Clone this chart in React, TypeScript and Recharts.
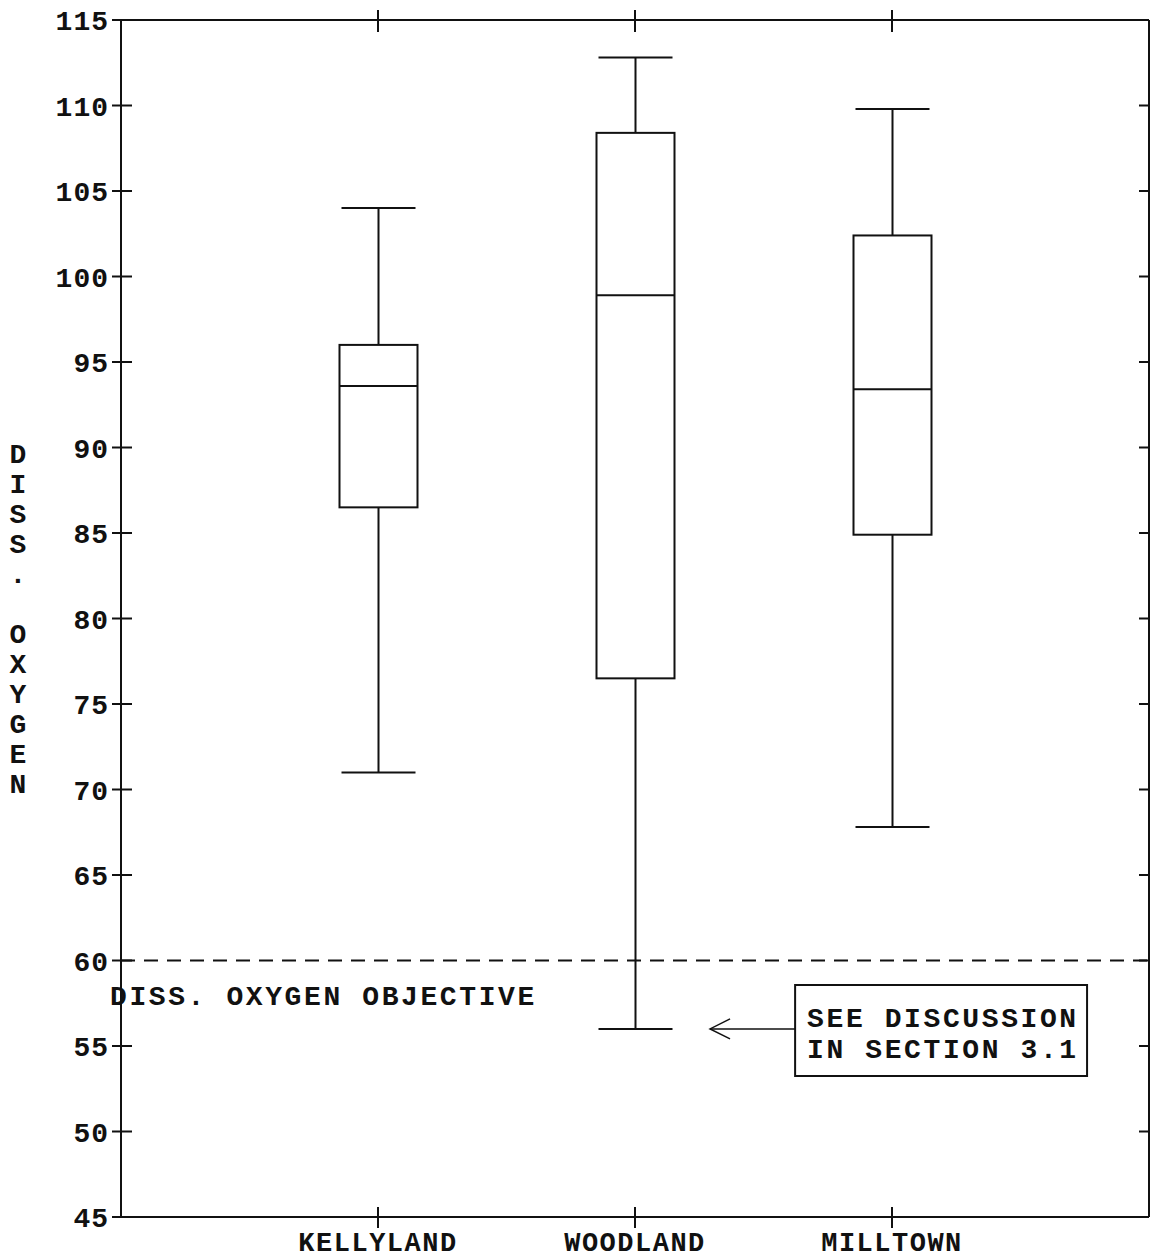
import React from "react";
import {
  ComposedChart, Bar, Scatter, XAxis, YAxis, ReferenceLine, ReferenceArea,
} from "recharts";

// Sites along the x axis (numeric positions 1..3 on a 0..4 axis)
const SITES = ["KELLYLAND", "WOODLAND", "MILLTOWN"];
const SITE_POS = [1, 2, 3];

// Box plot statistics
const LOW = [71.0, 56.0, 67.8];
const Q1 = [86.5, 76.5, 84.9];
const MEDIAN = [93.6, 98.9, 93.4];
const Q3 = [96.0, 108.4, 102.4];
const HIGH = [104.0, 112.8, 109.8];

const Y_TICKS = [45, 50, 55, 60, 65, 70, 75, 80, 85, 90, 95, 100, 105, 110, 115];
const OBJECTIVE = 60;

// Note box + arrow, in data units
const NOTE_X = [2.623, 3.759];
const NOTE_Y = [53.25, 58.57];
const ARROW_X = [2.623, 2.292];
const ARROW_Y = 56;

const data = SITES.map((name, i) => ({
  name,
  pos: SITE_POS[i],
  whisker: [LOW[i], HIGH[i]],
  box: [Q1[i], Q3[i]],
  median: MEDIAN[i],
}));

const FONT = "'Liberation Mono', 'DejaVu Sans Mono', monospace";
const INK = "#111";

const WhiskerShape = (p: any) => {
  const { x, width } = p;
  const top = Math.min(p.y, p.y + p.height);
  const bot = Math.max(p.y, p.y + p.height);
  const cx = x + width / 2;
  return (
    <g stroke={INK} strokeWidth={2}>
      <line x1={cx} y1={top} x2={cx} y2={bot} />
      <line x1={x} y1={top} x2={x + width} y2={top} />
      <line x1={x} y1={bot} x2={x + width} y2={bot} />
    </g>
  );
};

const BoxShape = (p: any) => {
  const top = Math.min(p.y, p.y + p.height);
  const h = Math.abs(p.height);
  return <rect x={p.x} y={top} width={p.width} height={h} fill="#fff" stroke={INK} strokeWidth={2} />;
};

const MedianShape = (p: any) => (
  <line x1={p.cx - 39} y1={p.cy} x2={p.cx + 39} y2={p.cy} stroke={INK} strokeWidth={2} />
);

const LeftTick = ({ x, y, payload }: any) => (
  <g>
    <line x1={x - 9} y1={y} x2={x + 11} y2={y} stroke={INK} strokeWidth={2} />
    <text x={x - 12} y={y} dy="0.36em" textAnchor="end" fontFamily={FONT}
      fontSize={28} fontWeight={700} letterSpacing={1} fill={INK}>
      {payload.value}
    </text>
  </g>
);

const RightTick = ({ x, y }: any) => (
  <line x1={x - 10} y1={y} x2={x} y2={y} stroke={INK} strokeWidth={2} />
);

const TopTick = ({ x, y }: any) => (
  <line x1={x} y1={y - 10} x2={x} y2={y + 12} stroke={INK} strokeWidth={2} />
);

const BottomTick = ({ x, y, payload }: any) => (
  <g>
    <line x1={x} y1={y - 10} x2={x} y2={y + 11} stroke={INK} strokeWidth={2} />
    <text x={x} y={y + 34} textAnchor="middle" fontFamily={FONT} fontSize={27}
      fontWeight={700} letterSpacing={1.5} fill={INK}>
      {SITES[SITE_POS.indexOf(payload.value)]}
    </text>
  </g>
);

const YLabel = ({ viewBox }: any) => {
  const midY = viewBox.y + viewBox.height / 2;
  const letters = "DISS. OXYGEN".split("");
  const y0 = midY - ((letters.length - 1) * 30) / 2 + 9;
  return (
    <text fontFamily={FONT} fontSize={28} fontWeight={700} fill={INK} textAnchor="middle">
      {letters.map((ch, i) => (
        <tspan key={i} x={18} y={y0 + i * 30}>{ch === " " ? "\u00a0" : ch}</tspan>
      ))}
    </text>
  );
};

const ObjectiveLabel = ({ viewBox }: any) => (
  <text x={viewBox.x - 11} y={viewBox.y + 44} fontFamily={FONT} fontSize={28}
    fontWeight={700} letterSpacing={2.6} fill={INK}>
    DISS. OXYGEN OBJECTIVE
  </text>
);

const NoteLabel = ({ viewBox }: any) => (
  <text fontFamily={FONT} fontSize={28} fontWeight={700} letterSpacing={2.6} fill={INK}>
    <tspan x={viewBox.x + 12} y={viewBox.y + 42}>SEE DISCUSSION</tspan>
    <tspan x={viewBox.x + 12} y={viewBox.y + 73}>IN SECTION 3.1</tspan>
  </text>
);

const ArrowShape = (p: any) => {
  const { x1, y1, x2, y2 } = p;
  return (
    <g stroke={INK} strokeWidth={1.5} fill="none">
      <line x1={x1} y1={y1} x2={x2} y2={y2} />
      <polyline points={`${x2 + 20},${y2 - 10} ${x2},${y2} ${x2 + 20},${y2 + 10}`} />
    </g>
  );
};

const axisLine = { stroke: INK, strokeWidth: 2 };

export default function App() {
  return (
    <div style={{ position: "absolute", left: 0, top: 0, width: 1154, height: 1259, background: "#fff" }}>
      <ComposedChart width={1154} height={1259} data={data}
        margin={{ top: 10, right: 3, bottom: 0, left: 0 }}>
        <XAxis xAxisId="bottom" dataKey="pos" type="number" domain={[0, 4]} ticks={SITE_POS}
          interval={0} height={42} axisLine={axisLine} tickLine={false} tickSize={0} tickMargin={0}
          tick={BottomTick} allowDataOverflow />
        <XAxis xAxisId="top" orientation="top" dataKey="pos" type="number" domain={[0, 4]}
          ticks={SITE_POS} interval={0} height={10} axisLine={axisLine} tickLine={false}
          tickSize={0} tickMargin={0} tick={TopTick} allowDataOverflow />
        <XAxis xAxisId="med" dataKey="pos" type="number" domain={[0, 4]} hide allowDataOverflow />
        <YAxis yAxisId="left" type="number" domain={[45, 115]} ticks={Y_TICKS} interval={0}
          width={121} axisLine={axisLine} tickLine={false} tickSize={0} tickMargin={0}
          tick={LeftTick} label={YLabel} allowDataOverflow />
        <YAxis yAxisId="right" orientation="right" type="number" domain={[45, 115]} ticks={Y_TICKS}
          interval={0} width={2} axisLine={axisLine} tickLine={false} tickSize={0} tickMargin={0}
          tick={RightTick} allowDataOverflow />

        <ReferenceLine xAxisId="bottom" yAxisId="left" y={OBJECTIVE} stroke={INK} strokeWidth={2}
          strokeDasharray="14 9" label={ObjectiveLabel} />

        <Bar xAxisId="bottom" yAxisId="left" dataKey="whisker" barSize={74}
          shape={WhiskerShape} isAnimationActive={false} />
        <Bar xAxisId="top" yAxisId="right" dataKey="box" barSize={78}
          shape={BoxShape} isAnimationActive={false} />
        <Scatter xAxisId="med" yAxisId="left" dataKey="median"
          shape={MedianShape} isAnimationActive={false} />

        <ReferenceLine xAxisId="bottom" yAxisId="left"
          segment={[{ x: ARROW_X[0], y: ARROW_Y }, { x: ARROW_X[1], y: ARROW_Y }]}
          shape={ArrowShape} />
        <ReferenceArea xAxisId="bottom" yAxisId="left" x1={NOTE_X[0]} x2={NOTE_X[1]}
          y1={NOTE_Y[0]} y2={NOTE_Y[1]} fill="#fff" fillOpacity={1} stroke={INK}
          strokeWidth={2} label={NoteLabel} />
      </ComposedChart>
    </div>
  );
}
